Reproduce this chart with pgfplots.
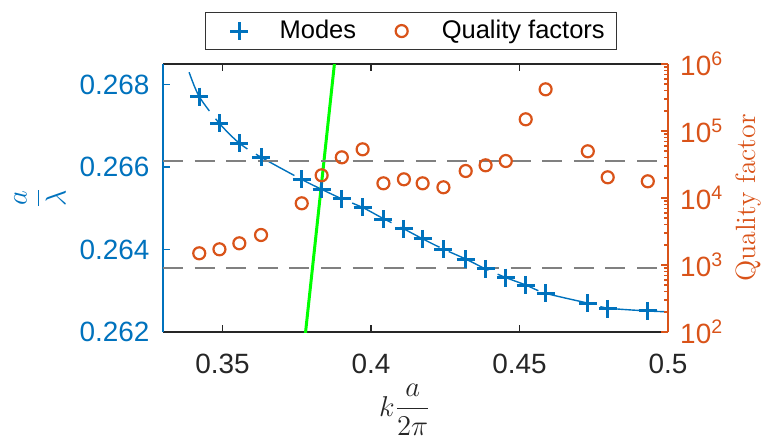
\documentclass[border=0pt]{standalone}
\usepackage[no-math]{fontspec}
\usepackage{pgfplots}
\pgfplotsset{compat=1.18}
\newfontfamily\arial{Liberation Sans}
\definecolor{mblue}{RGB}{0,114,189}
\definecolor{morange}{RGB}{217,83,25}
\definecolor{mgreen}{RGB}{0,255,0}

\pgfplotsset{
  base/.style={
    scale only axis, width=252.5bp, height=134bp,
    xmin=0.33, xmax=0.5,
    tick align=inside,
    major tick length=3.3bp, minor tick length=1.8bp,
    every tick/.append style={line width=0.8bp},
    tick label style={font=\arial\fontsize{14}{16}\selectfont},
    label style={font=\fontsize{14}{16}\selectfont},
    /pgf/number format/assume math mode=true,
  },
}

\begin{document}
\begin{tikzpicture}
\begin{axis}[base, name=main,
  ymin=0.262, ymax=0.2685,
  axis x line*=box, axis y line*=left,
  x axis line style={black!85, line width=0.8bp},
  y axis line style={mblue, line width=0.8bp},
  x tick style={black!85},
  y tick style={mblue},
  xtick={0.35,0.4,0.45,0.5}, xticklabels={0.35,0.4,0.45,0.5},
  ytick={0.262,0.264,0.266,0.268},
  yticklabels={0.262,0.264,0.266,0.268},
  xticklabel style={yshift=-7.3bp, black!85},
  yticklabel style={xshift=-3.3bp, mblue},
  xlabel={$k\displaystyle\frac{a}{2\pi}$},
  ylabel={$\displaystyle\frac{a}{\lambda}$},
  xlabel style={at={(axis description cs:0.479,-0.291)}, anchor=center, black!85},
  ylabel style={at={(axis description cs:-0.2436,0.5)}, anchor=center, mblue},
]
% fitted curve
\addplot[mblue, line width=0.7bp, smooth, dash pattern=on 22bp off 5bp] coordinates {
  (0.3388,0.26830) (0.3422,0.26771) (0.3490,0.26706) (0.3557,0.26658)
  (0.3630,0.26624) (0.3767,0.26570) (0.3834,0.26546) (0.3902,0.26523)
  (0.3972,0.26502) (0.4042,0.26475) (0.4111,0.26450) (0.4174,0.26426)
  (0.4244,0.26401) (0.4319,0.26377) (0.4386,0.26353) (0.4454,0.26332)
  (0.4521,0.26314) (0.4588,0.26294) (0.4730,0.26270) (0.4797,0.26258)
  (0.4932,0.26251) (0.5000,0.26249)
};
% light line
\addplot[mgreen, line width=1.5bp] coordinates {(0.3777,0.2618) (0.3880,0.2687)};
% band edges
\addplot[black!50, line width=1.1bp, dash pattern=on 10bp off 5.8bp] coordinates {(0.33,0.26615) (0.5,0.26615)};
\addplot[black!50, line width=1.1bp, dash pattern=on 10bp off 5.8bp] coordinates {(0.33,0.26355) (0.5,0.26355)};
% modes
\addplot[only marks, mark=+, mblue, mark size=4.5bp, line width=1.5bp] coordinates {
  (0.3422,0.26771) (0.3490,0.26706) (0.3557,0.26658) (0.3630,0.26624)
  (0.3767,0.26570) (0.3834,0.26546) (0.3902,0.26523) (0.3972,0.26502)
  (0.4042,0.26473) (0.4111,0.26450) (0.4174,0.26426) (0.4244,0.26401)
  (0.4319,0.26377) (0.4386,0.26353) (0.4454,0.26332) (0.4521,0.26314)
  (0.4588,0.26294) (0.4730,0.26270) (0.4797,0.26256) (0.4932,0.26251)
};
\end{axis}

\begin{axis}[base,
  ymode=log, ymin=1e2, ymax=1e6,
  axis x line=none, axis y line*=right,
  y axis line style={morange, line width=0.8bp},
  y tick style={morange},
  ytick={1e2,1e3,1e4,1e5,1e6},
  minor ytick={200,300,400,500,600,700,800,900,
    2000,3000,4000,5000,6000,7000,8000,9000,
    20000,30000,40000,50000,60000,70000,80000,90000,
    200000,300000,400000,500000,600000,700000,800000,900000},
  yticklabels={10\textsuperscript{2},10\textsuperscript{3},10\textsuperscript{4},10\textsuperscript{5},10\textsuperscript{6}},
  yticklabel style={xshift=2.6bp, morange},
  ylabel={Quality factor},
  ylabel style={at={(axis description cs:1.1604,0.5)}, anchor=center, morange},
  legend columns=2,
  legend image code/.code={\path (0bp,0bp) (20bp,0bp); \draw[#1] plot coordinates {(10bp,0bp)};},
  legend style={at={(0.0832,1)}, anchor=south west, yshift=7bp,
    draw=black!80, line width=0.6bp, inner xsep=6bp, inner ysep=3.8bp,
    font=\arial\fontsize{12.8}{14}\selectfont,
    nodes={inner xsep=0bp, inner ysep=0bp},
    /tikz/every odd column/.append style={column sep=9.5bp},
    /tikz/every even column/.append style={column sep=12.2bp}},
]
\addlegendimage{only marks, mark=+, mblue, mark size=4.5bp, line width=1.5bp}
\addlegendentry{Modes}
\addplot[only marks, mark=o, morange, mark size=3bp, line width=1.1bp] coordinates {
  (0.3422,1496) (0.3490,1715) (0.3557,2108) (0.3630,2805)
  (0.3767,8337) (0.3834,21820) (0.3902,40480) (0.3972,53300)
  (0.4042,16570) (0.4111,19010) (0.4174,16570) (0.4244,14450)
  (0.4319,25290) (0.4386,30760) (0.4454,35660) (0.4521,149500)
  (0.4588,419000) (0.4730,49780) (0.4797,20370) (0.4932,17750)
};
\addlegendentry{Quality factors}
\end{axis}
\pgfresetboundingbox
\path ([xshift=-81.5bp,yshift=-55bp]main.south west) rectangle ([xshift=49bp,yshift=32bp]main.north east);
\end{tikzpicture}
\end{document}
